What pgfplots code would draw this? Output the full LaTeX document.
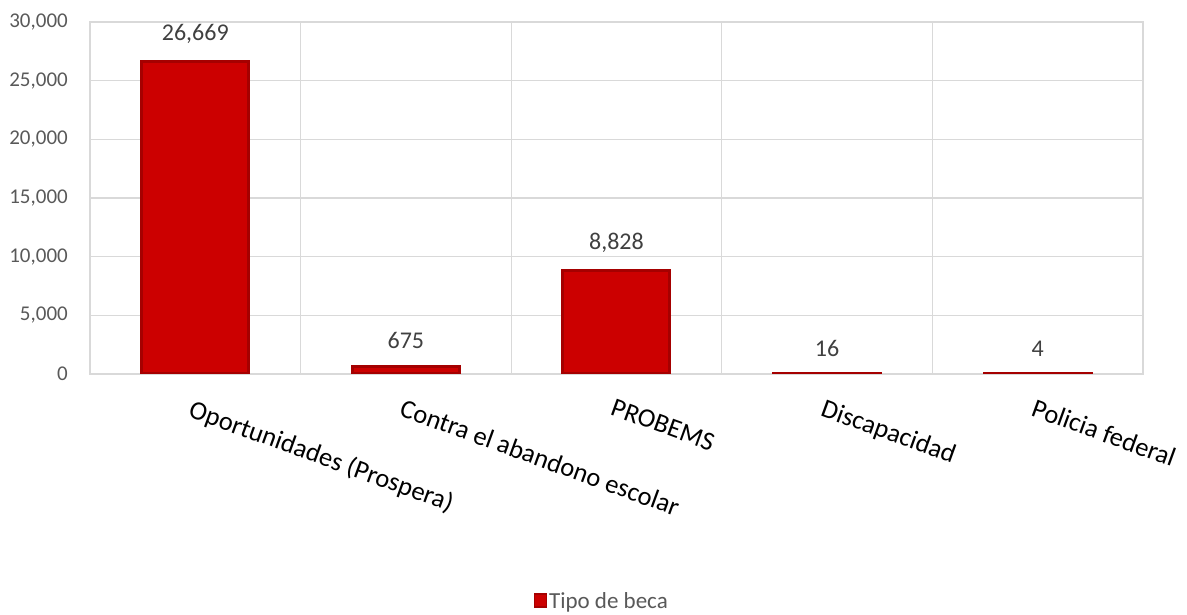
\documentclass[border=0pt]{standalone}
\usepackage{pgfplots}
\pgfplotsset{compat=1.18}
\usepackage{fontspec}
\setmainfont{Carlito}
\definecolor{gridc}{HTML}{D9D9D9}
\definecolor{barface}{HTML}{CC0000}
\definecolor{baredge}{HTML}{A50000}
\definecolor{tickc}{HTML}{595959}
\definecolor{labc}{HTML}{404040}
\begin{document}
\begin{tikzpicture}[x=1pt,y=1pt]
\useasboundingbox (0,0) rectangle (1187,615);
\begin{axis}[
  at={(90pt,241pt)}, anchor=south west,
  scale only axis, width=1053pt, height=352pt,
  xmin=-0.5, xmax=4.5, ymin=0, ymax=30000,
  ybar, bar width=107pt,
  xtick={0,1,2,3,4},
  xticklabels={Oportunidades (Prospera),Contra el abandono escolar,PROBEMS,Discapacidad,Policia federal},
  minor xtick={-0.5,0.5,1.5,2.5,3.5,4.5},
  ytick={0,5000,10000,15000,20000,25000,30000},
  ymajorgrids, xminorgrids,
  grid style={draw=gridc, line width=1.2pt},
  minor grid style={draw=gridc, line width=1.2pt},
  axis line style={draw=gridc, line width=1.2pt},
  major tick length=0pt, minor tick length=0pt,
  scaled y ticks=false,
  /pgf/number format/1000 sep={,},
  /pgf/number format/assume math mode=true,
  yticklabel style={font=\fontsize{21}{25}\selectfont, text=tickc, inner sep=0pt, xshift=-22pt},
  xticklabel style={font=\fontsize{26.5}{31}\selectfont, text=black, rotate=-20, anchor=north west, inner sep=0pt, yshift=-23pt, xshift=7pt},
  every node near coord/.append style={font=\fontsize{24}{28}\selectfont, text=labc, inner sep=0pt, yshift=16pt},
  legend style={at={(0.486,-0.645)}, anchor=center, draw=none, font=\fontsize{23}{27}\selectfont, text=tickc},
  legend image code/.code={\draw[fill=barface, draw=baredge, line width=1.5pt] (0pt,-6pt) rectangle (12pt,7pt);},
]
\addplot[fill=barface, draw=baredge, line width=3pt, bar shift=0pt, nodes near coords] coordinates {(0,26669) (1,675) (2,8828) (3,16) (4,4)};
\addlegendentry{Tipo de beca}
\end{axis}
\end{tikzpicture}
\end{document}
